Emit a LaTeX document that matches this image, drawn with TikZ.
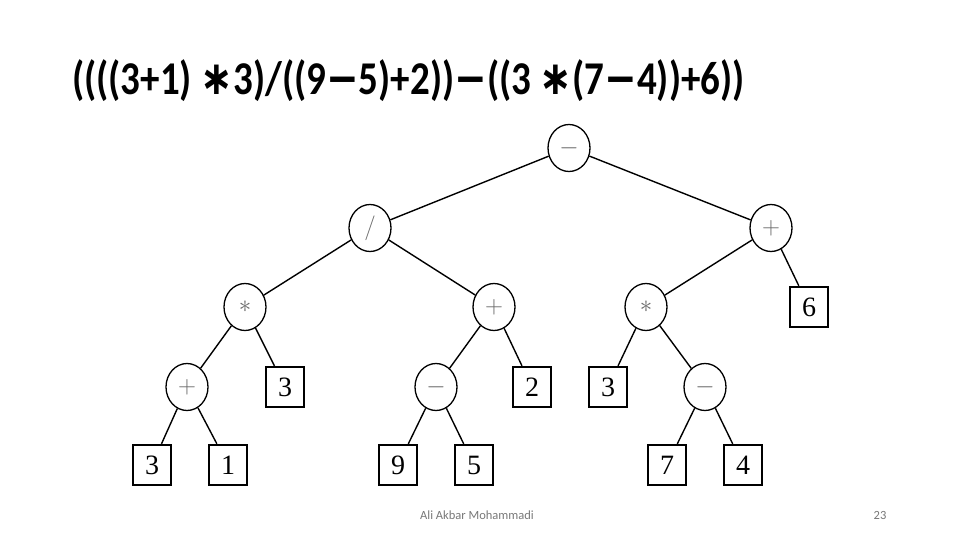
\documentclass[tikz,border=0pt]{standalone}
\usepackage{fontspec}
\setmainfont{Liberation Serif}
\newfontfamily\titlef{Carlito}
\newfontfamily\symf{DejaVu Sans}
\usetikzlibrary{shapes.geometric}
\definecolor{opgray}{RGB}{105,105,105}
\definecolor{footgray}{RGB}{120,120,120}
\tikzset{
  opnode/.style={draw=black, line width=1.3pt, ellipse, minimum width=42pt, minimum height=47pt, inner sep=0pt, text=opgray, font=\fontsize{28}{28}\selectfont},
  leafnode/.style={draw=black, line width=2.4pt, rectangle, minimum width=38pt, minimum height=40pt, inner sep=0pt, font=\fontsize{28}{28}\selectfont},
  edge/.style={draw=black, line width=1.4pt}
}
\begin{document}
\begin{tikzpicture}[x=1pt,y=-1pt]
\useasboundingbox[fill=white] (0,0) rectangle (960,540);
\node[anchor=base west, inner sep=0pt, font=\titlef\bfseries\fontsize{47}{47}\selectfont] (title) at (72,95)
  {\scalebox{0.83}[1]{((((3+1) {\symf\bfseries ∗}3)/((9{\symf\bfseries −}5)+2)){\symf\bfseries −}((3 {\symf\bfseries ∗}(7{\symf\bfseries −}4))+6))}};
% level 0
\node[opnode] (r) at (569,148) {$-$};
% level 1
\node[opnode] (div) at (370,228) {$/$};
\node[opnode] (pr) at (771,228) {$+$};
% level 2
\node[opnode] (ml) at (245,307) {$\ast$};
\node[opnode] (pm) at (494,307) {$+$};
\node[opnode] (mr) at (646,307) {$\ast$};
\node[leafnode] (six) at (809,307) {6};
% level 3
\node[opnode] (pl) at (187,387) {$+$};
\node[leafnode] (threeA) at (285,387) {3};
\node[opnode] (sm) at (436,387) {$-$};
\node[leafnode] (two) at (532,387) {2};
\node[leafnode] (threeB) at (608,387) {3};
\node[opnode] (sr) at (705,387) {$-$};
% level 4
\node[leafnode] (threeC) at (152,465) {3};
\node[leafnode] (one) at (228,465) {1};
\node[leafnode] (nine) at (398,465) {9};
\node[leafnode] (five) at (474,465) {5};
\node[leafnode] (seven) at (667,465) {7};
\node[leafnode] (four) at (743,465) {4};
% edges
\draw[edge] (r) -- (div);
\draw[edge] (r) -- (pr);
\draw[edge] (div) -- (ml);
\draw[edge] (div) -- (pm);
\draw[edge] (pr) -- (mr);
\draw[edge] (pr) -- (six);
\draw[edge] (ml) -- (pl);
\draw[edge] (ml) -- (threeA);
\draw[edge] (pm) -- (sm);
\draw[edge] (pm) -- (two);
\draw[edge] (mr) -- (threeB);
\draw[edge] (mr) -- (sr);
\draw[edge] (pl) -- (threeC);
\draw[edge] (pl) -- (one);
\draw[edge] (sm) -- (nine);
\draw[edge] (sm) -- (five);
\draw[edge] (sr) -- (seven);
\draw[edge] (sr) -- (four);
% footer
\node[font=\titlef\fontsize{12.5}{12.5}\selectfont, text=footgray] (foot) at (477,515) {Ali Akbar Mohammadi};
\node[font=\titlef\fontsize{12.5}{12.5}\selectfont, text=footgray] (page) at (880,515) {23};
\end{tikzpicture}
\end{document}
